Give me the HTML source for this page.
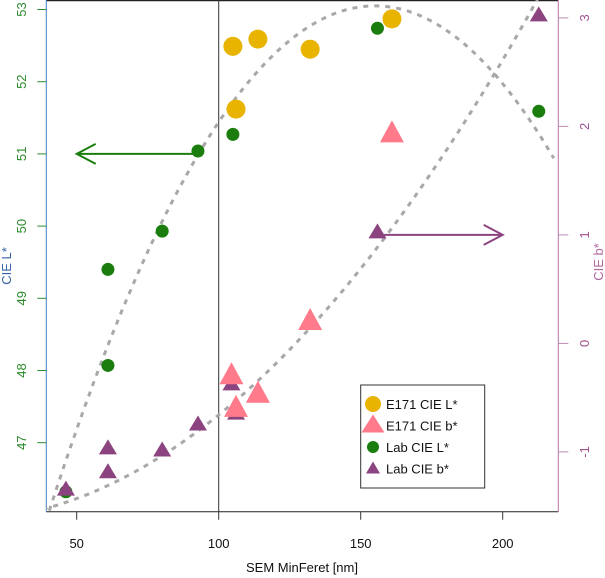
<!DOCTYPE html>
<html><head><meta charset="utf-8"><style>
html,body{margin:0;padding:0;background:#fff;}
svg{display:block;font-family:"Liberation Sans",sans-serif;}
</style></head><body>
<svg id="chart" width="605" height="578" xmlns="http://www.w3.org/2000/svg"></svg>
<script>
const xTicks=[50,100,150,200];
const lTicks=[47,48,49,50,51,52,53];
const bTicks=[-1,0,1,2,3];
const e171X=[105.0,113.8,132.2,106.1,161.0];
const e171L=[52.49,52.59,52.45,51.62,52.87];
const e171bX=[104.5,106.1,113.8,132.2,161.0];
const e171b=[-0.30,-0.60,-0.47,0.20,1.93];
const labX=[46.2,61.0,61.0,80.1,92.7,105.0,155.9,212.7];
const labL=[46.32,49.40,48.07,49.93,51.04,51.27,52.74,51.59];
const labbX=[46.2,61.0,61.0,80.1,92.7,104.5,106.1,155.9,212.7];
const labb=[-1.35,-0.97,-1.19,-0.99,-0.75,-0.38,-0.65,1.02,3.02];
const lCurve=[53.05,155,0.000532];
const bCurve=[-0.55,105,0.02234,0.0001153];

const X=v=>76.7+(v-50)*2.84;
const YL=v=>442.7-(v-47)*72.2;
const YB=v=>343.4-v*108.5;
const svg=document.getElementById('chart');
const NS='http://www.w3.org/2000/svg';
function mk(tag,attrs,name,parent){const e=document.createElementNS(NS,tag);for(const k in attrs)e.setAttribute(k,attrs[k]);


(parent||svg).appendChild(e);return e;}
const L=46.3,R=558.3,T=0,B=511.7;
const defs=mk('clipPath',{id:'clip'},'plot-clip');
mk('rect',{x:L,y:T,width:R-L,height:B-T},'clip-rect',defs);
mk('line',{x1:L,y1:0.5,x2:R,y2:0.5,stroke:'#222','stroke-width':1.5},'frame-top');
mk('line',{x1:L,y1:B,x2:R,y2:B,stroke:'#222','stroke-width':1},'frame-bottom');
mk('line',{x1:L,y1:0,x2:L,y2:B,stroke:'#4a7fc0','stroke-width':1},'left-axis-line');
mk('line',{x1:R,y1:0,x2:R,y2:B,stroke:'#b574a8','stroke-width':1},'right-axis-line');
mk('line',{x1:X(100),y1:0,x2:X(100),y2:B,stroke:'#333','stroke-width':1},'reference-line-100');
xTicks.forEach(t=>{mk('line',{x1:X(t),y1:B,x2:X(t),y2:B+8,stroke:'#333'},'x-tick');
const tx=mk('text',{x:X(t),y:548,'text-anchor':'middle','font-size':13,fill:'#111'},'x-tick-label');tx.textContent=t;});
lTicks.forEach(t=>{mk('line',{x1:L-9,y1:YL(t),x2:L,y2:YL(t),stroke:'#2a8a2a'},'left-tick');
const tx=mk('text',{x:26,y:YL(t),'text-anchor':'middle','font-size':13,fill:'#2a8a2a',transform:`rotate(-90 26 ${YL(t)})`},'left-tick-label');tx.textContent=t;});
bTicks.forEach(t=>{mk('line',{x1:R,y1:YB(t),x2:R+10,y2:YB(t),stroke:'#c18bb5'},'right-tick');
const tx=mk('text',{x:589,y:YB(t),'text-anchor':'middle','font-size':13,fill:'#a0508f',transform:`rotate(-90 589 ${YB(t)})`},'right-tick-label');tx.textContent=t;});
let t=mk('text',{x:302,y:572,'text-anchor':'middle','font-size':13,fill:'#111'},'x-axis-title');t.textContent='SEM MinFeret [nm]';
t=mk('text',{x:11,y:266,'text-anchor':'middle','font-size':13,fill:'#3a64a8',transform:'rotate(-90 11 266)'},'left-axis-title');t.textContent='CIE L*';
t=mk('text',{x:603,y:262,'text-anchor':'middle','font-size':13,fill:'#b06aa2',transform:'rotate(-90 603 262)'},'right-axis-title');t.textContent='CIE b*';
let dL='',dB='';
for(let v=38;v<=218;v+=1){const l=lCurve[0]-lCurve[2]*(v-lCurve[1])**2;dL+=(dL?'L':'M')+X(v).toFixed(1)+' '+YL(l).toFixed(1);
const d=v-bCurve[1];const b=bCurve[0]+bCurve[2]*d+bCurve[3]*d*d;dB+=(dB?'L':'M')+X(v).toFixed(1)+' '+YB(b).toFixed(1);}
mk('path',{d:dL,fill:'none',stroke:'#a8a8a8','stroke-width':3,'stroke-dasharray':'5 6','clip-path':'url(#clip)'},'fit-curve-L');
mk('path',{d:dB,fill:'none',stroke:'#a8a8a8','stroke-width':3,'stroke-dasharray':'5 6','clip-path':'url(#clip)'},'fit-curve-b');
mk('path',{d:`M${X(92.7)} ${YL(51)}H${X(50)}M${X(50)+19} ${YL(51)-10}L${X(50)} ${YL(51)}L${X(50)+19} ${YL(51)+10}`,fill:'none',stroke:'#1a7d0e','stroke-width':2},'arrow-left-axis');
mk('path',{d:`M${X(155.9)} ${YB(1)}H${X(200)}M${X(200)-19} ${YB(1)-10}L${X(200)} ${YB(1)}L${X(200)-19} ${YB(1)+10}`,fill:'none',stroke:'#8b4480','stroke-width':2},'arrow-right-axis');
function tri(cx,cy,h,w,fill,name){mk('polygon',{points:`${cx},${cy-h*0.62} ${cx-w},${cy+h*0.38} ${cx+w},${cy+h*0.38}`,fill:fill},name);}
labX.forEach((v,i)=>mk('circle',{cx:X(v),cy:YL(labL[i]),r:6.5,fill:'#1a7d0e'},'lab-L-point'));
labbX.forEach((v,i)=>tri(X(v),YB(labb[i]),15,9,'#8b4480','lab-b-point'));
e171X.forEach((v,i)=>mk('circle',{cx:X(v),cy:YL(e171L[i]),r:9.5,fill:'#e8b400'},'e171-L-point'));
e171bX.forEach((v,i)=>tri(X(v),YB(e171b[i]),22,12,'#ff7a8a','e171-b-point'));
const lg=mk('g',{},'legend');
mk('rect',{x:360.7,y:385,width:124,height:103,fill:'#fff',stroke:'#333'},'legend-box',lg);
const items=[['E171 CIE L*','c','#e8b400',8],['E171 CIE b*','t','#ff7a8a',0],['Lab CIE L*','c','#1a7d0e',6],['Lab CIE b*','t','#8b4480',0]];
items.forEach((it,i)=>{const y=404+i*21.5;
if(it[1]=='c')mk('circle',{cx:373,cy:y,r:it[3],fill:it[2]},'legend-symbol',lg);
else mk('polygon',{points:i==1?`373,${y-11} 361.5,${y+7} 384.5,${y+7}`:`373,${y-7} 366,${y+5} 380,${y+5}`,fill:it[2]},'legend-symbol',lg);
const tx=mk('text',{x:386,y:y+5,'font-size':13,fill:'#111'},'legend-entry',lg);tx.textContent=it[0];});
</script>
</body></html>
